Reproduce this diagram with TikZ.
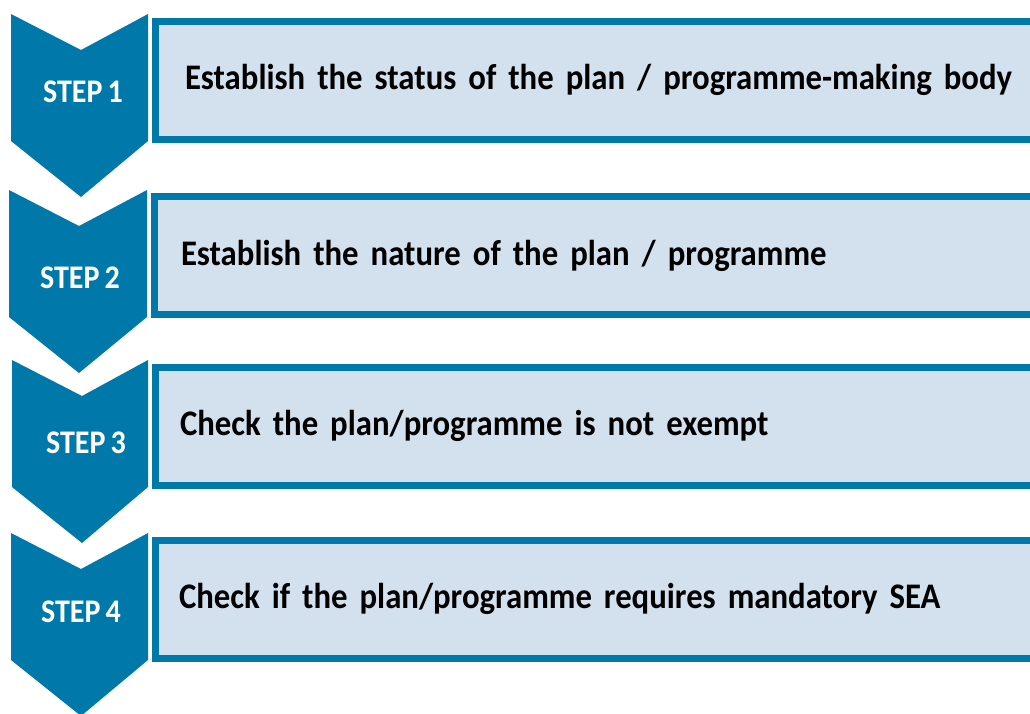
\documentclass[tikz,border=0pt]{standalone}
\usepackage{fontspec}
\setmainfont{Carlito}[FakeStretch=0.91, WordSpace=0.75]
\usetikzlibrary{positioning}
\definecolor{stepblue}{RGB}{0,121,170}
\definecolor{stepfill}{RGB}{211,224,237}

\begin{document}
\begin{tikzpicture}[x=1pt, y=-1pt,
    stepbox/.style={draw=stepblue, fill=stepfill, line width=7pt, anchor=north west,
        minimum height=118pt, text width=860pt, inner xsep=30pt, align=left,
        font=\fontsize{36}{42}\selectfont\bfseries},
    steplabel/.style={text=white, font=\fontsize{33}{38}\selectfont\bfseries}]
    \clip (0,0) rectangle (1030,713);

    % Define chevrons
    \fill[stepblue] (11,14) -- (81,50) -- (148,14) -- (148,141) -- (81,197) -- (11,141) -- cycle;
    \fill[stepblue] (9,190) -- (79,226) -- (147,190) -- (147,317) -- (79,373) -- (9,317) -- cycle;
    \fill[stepblue] (12,360) -- (82,396) -- (148,360) -- (148,487) -- (82,543) -- (12,487) -- cycle;
    \fill[stepblue] (11,533) -- (81,569) -- (148,533) -- (148,660) -- (81,716) -- (11,660) -- cycle;

    % Define boxes
    \node[stepbox] (Box1) at (151.5,17.5) {Establish the status of the plan / programme-making body};
    \node[stepbox, inner xsep=27pt] (Box2) at (150.5,193) {Establish the nature of the plan / programme};
    \node[stepbox, inner xsep=25pt] (Box3) at (151.5,363.5) {Check the plan/programme is not exempt};
    \node[stepbox, inner xsep=24pt] (Box4) at (151.5,536.5) {Check if the plan/programme requires mandatory SEA};

    % Define step labels
    \node[steplabel] (Step1) at (83,92) {STEP 1};
    \node[steplabel] (Step2) at (80,278) {STEP 2};
    \node[steplabel] (Step3) at (86,443) {STEP 3};
    \node[steplabel] (Step4) at (81,612) {STEP 4};
\end{tikzpicture}
\end{document}
